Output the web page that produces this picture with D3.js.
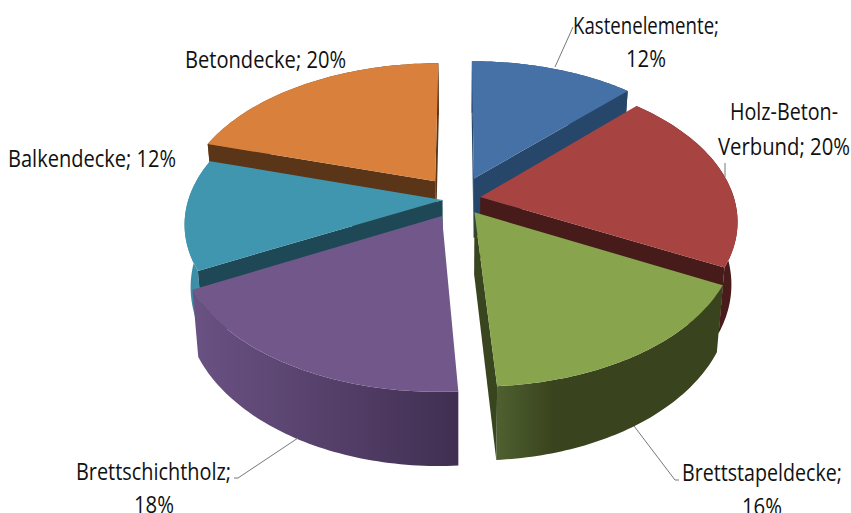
<!DOCTYPE html>
<html>
<head>
<meta charset="utf-8">
<script src="https://cdn.jsdelivr.net/npm/d3@7"></script>
<style>
  html, body { margin: 0; padding: 0; background: #fff; }
  svg { display: block; }
  text { font-family: "Open Sans", "Noto Sans", sans-serif; font-size: 23px; fill: #111; }
</style>
</head>
<body>
<div id="chart"></div>
<script>
var categories = ["Kastenelemente", "Holz-Beton-Verbund", "Brettstapeldecke", "Brettschichtholz", "Balkendecke", "Betondecke"];
var values = [12, 20, 16, 18, 12, 20];
var explode = [0.16, 0.085, 0.11, 0.135, 0.065, 0.16];
var topColors = ["#4571a6", "#a74340", "#88a44d", "#71578a", "#4096ae", "#d9813c"];
var cutColors = ["#26466a", "#461b19", "#39451e", "#412f52", "#1e4855", "#5a3517"];
var wallFrom = ["#2f5580", "#4a1b1b", "#4f6030", "#6a5283", "#4096ae", "#8a5226"];
var wallTo = ["#26466a", "#4a1b1b", "#39431d", "#412f52", "#3a8aa3", "#5a3517"];

// back to front
var drawOrder = [5, 0, 4, 1, 2, 3];

var width = 851, height = 513;
var cx = 459, cy = 199;
var f = 254, b = 141.9, k = 0.159, depth = 61, shrink = 0.022;

var svg = d3.select("#chart").append("svg")
    .attr("width", width)
    .attr("height", height);

var defs = svg.append("defs");

var arcs = d3.pie().sort(null)(values);

// ground plane -> screen, z = 0 top, z = 1 bottom of the slab
function project(X, Y, z) {
  var w = 1 - k * Y;
  return [cx + f * X / w * (1 - shrink * z), cy + b * Y / w + z * depth / w];
}

function rimPoint(d, e, a, z) {
  var mid = (d.startAngle + d.endAngle) / 2;
  return project(e * Math.sin(mid) + Math.sin(a), -e * Math.cos(mid) - Math.cos(a), z);
}

function apexPoint(d, e, z) {
  var mid = (d.startAngle + d.endAngle) / 2;
  return project(e * Math.sin(mid), -e * Math.cos(mid), z);
}

function rim(d, e, z) {
  var n = 60;
  return d3.range(n + 1).map(function (i) {
    return rimPoint(d, e, d.startAngle + (d.endAngle - d.startAngle) * i / n, z);
  });
}

var line = d3.line();

drawOrder.forEach(function (i) {
  var d = arcs[i], e = explode[i];
  var g = svg.append("g").attr("class", "slice");
  var topRim = rim(d, e, 0), botRim = rim(d, e, 1);

  // side wall with a horizontal shade
  var xs = topRim.map(function (p) { return p[0]; });
  var grad = defs.append("linearGradient")
      .attr("id", "wall" + i)
      .attr("gradientUnits", "userSpaceOnUse")
      .attr("x1", d3.min(xs)).attr("x2", d3.max(xs))
      .attr("y1", 0).attr("y2", 0);
  var leftIsLight = i !== 4;
  grad.append("stop").attr("offset", 0).attr("stop-color", leftIsLight ? wallFrom[i] : wallTo[i]);
  grad.append("stop").attr("offset", i === 2 ? 0.25 : 1).attr("stop-color", leftIsLight ? wallTo[i] : wallFrom[i]);

  g.append("path")
      .attr("d", line(topRim.concat(botRim.slice().reverse())) + "Z")
      .attr("fill", "url(#wall" + i + ")");

  // cut faces, only the ones turned to the viewer
  [[d.startAngle, 1], [d.endAngle, -1]].forEach(function (c) {
    var face = [apexPoint(d, e, 0), rimPoint(d, e, c[0], 0), rimPoint(d, e, c[0], 1), apexPoint(d, e, 1)];
    if (d3.polygonArea(face) * c[1] > 0) {
      g.append("path").attr("d", line(face) + "Z").attr("fill", cutColors[i]);
    }
  });

  g.append("path")
      .attr("d", line([apexPoint(d, e, 0)].concat(topRim)) + "Z")
      .attr("fill", topColors[i]);
});

// leader lines
var leaders = [
  [[573, 27], [555, 67]],
  [[725, 163], [725, 177]],
  [[634, 426], [675, 480], [679, 480]],
  [[298, 438], [238, 478], [234, 478]]
];
svg.append("g").selectAll("path")
  .data(leaders)
  .enter().append("path")
    .attr("d", function (l) { return line(l); })
    .attr("fill", "none")
    .attr("stroke", "#777")
    .attr("stroke-width", 1);

// labels: text, x, baseline, width
var labels = [
  ["Kastenelemente;", 573, 34, 146],
  ["12%", 626, 67, 40],
  ["Holz-Beton-", 730, 120, 108],
  ["Verbund; 20%", 718, 155, 132],
  ["Betondecke; 20%", 185, 68, 161],
  ["Balkendecke; 12%", 8, 167, 168],
  ["Brettschichtholz;", 76, 480, 155],
  ["18%", 134, 513, 40],
  ["Brettstapeldecke;", 682, 481, 160],
  ["16%", 742, 515, 40]
];
svg.append("g").selectAll("text")
  .data(labels)
  .enter().append("text")
    .attr("x", function (d) { return d[1]; })
    .attr("y", function (d) { return d[2]; })
    .attr("textLength", function (d) { return d[3]; })
    .attr("lengthAdjust", "spacingAndGlyphs")
    .text(function (d) { return d[0]; });
</script>
</body>
</html>
